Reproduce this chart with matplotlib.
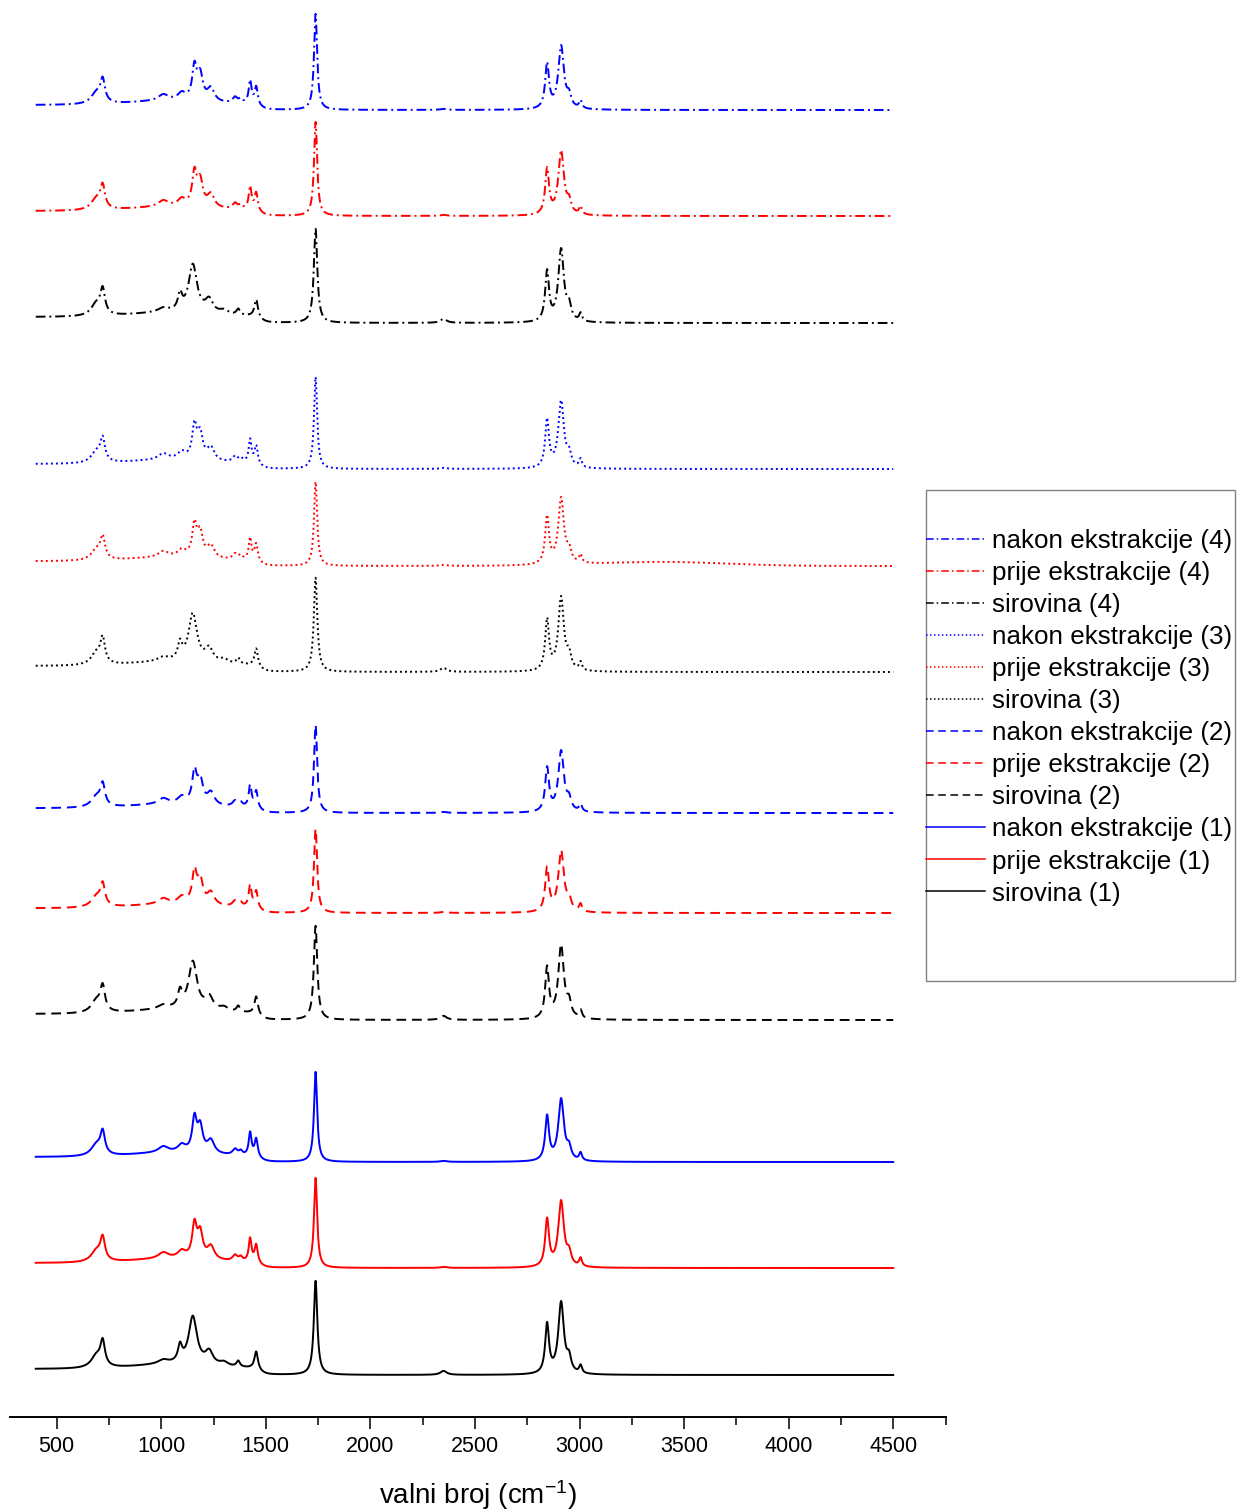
import numpy as np
import matplotlib
matplotlib.use('Agg')
import matplotlib.pyplot as plt
from matplotlib.ticker import MultipleLocator
from matplotlib.patches import Rectangle

plt.rcParams['font.family'] = ['Liberation Sans', 'DejaVu Sans']
plt.rcParams['mathtext.fontset'] = 'custom'
plt.rcParams['mathtext.rm'] = 'Liberation Sans'
plt.rcParams['mathtext.it'] = 'Liberation Sans'

# peak tables (centre cm-1, height px, half width cm-1)
raw_pos = [690, 720, 1010, 1090, 1151, 1229, 1300, 1368, 1454, 1738, 2350, 2845, 2912, 2950, 3005]
raw_h = [12, 24, 4, 16, 48, 13, 4, 6, 18, 92, 4, 44, 64, 12, 7]
raw_hw = [30, 13, 30, 12, 24, 22, 25, 10, 10, 10, 18, 11, 16, 12, 8]

ext_pos = [690, 720, 1010, 1098, 1159, 1186, 1237, 1353, 1380, 1425, 1454, 1738, 2350, 2845, 2912, 2950, 3005]
ext_h = [11, 22, 6, 7, 33, 25, 13, 6, 4, 23, 18, 88, 1, 40, 56, 10, 7]
ext_hw = [30, 13, 28, 22, 13, 15, 20, 14, 10, 8, 9, 9, 18, 11, 16, 12, 8]

labels = ['nakon ekstrakcije (4)', 'prije ekstrakcije (4)', 'sirovina (4)',
          'nakon ekstrakcije (3)', 'prije ekstrakcije (3)', 'sirovina (3)',
          'nakon ekstrakcije (2)', 'prije ekstrakcije (2)', 'sirovina (2)',
          'nakon ekstrakcije (1)', 'prije ekstrakcije (1)', 'sirovina (1)']
kind = ['ext', 'ext', 'raw'] * 4
carbonyl = [96, 94, 94, 92, 84, 94, 88, 84, 94, 90, 90, 94]
ch_peak = [65, 66, 75, 69, 68, 76, 63, 63, 76, 64, 68, 74]
fp_scale = [1.0, 1.0, 1.0, 1.0, 0.95, 1.0, 0.95, 0.95, 1.0, 1.0, 1.0, 1.0]
bump_3400 = [0, 0, 0, 0, 4, 0, 0, 0, 0, 0, 0, 0]

colors = ['blue', 'red', 'black'] * 4
styles = [(0, (5, 2, 1, 2))] * 3 + [(0, (1, 1.6))] * 3 + [(0, (5, 3))] * 3 + ['-'] * 3
baseline_px = [110, 216, 323, 469, 566, 672, 813, 913, 1020, 1162, 1268, 1375]

wn = np.linspace(400, 4500, 8201)


def lor(c, hw):
    return 1.0 / (1.0 + ((wn - c) / hw) ** 2)


def spectrum(i):
    if kind[i] == 'raw':
        pos, h, hw, b0 = raw_pos, raw_h, raw_hw, 6
    else:
        pos, h, hw, b0 = ext_pos, ext_h, ext_hw, 5
    fp = np.zeros_like(wn)
    co = np.zeros_like(wn)
    ch = np.zeros_like(wn)
    for c, a, w in zip(pos, h, hw):
        if c == 1738:
            co += a * lor(c, w)
        elif c >= 2800:
            ch += a * lor(c, w)
        else:
            fp += a * lor(c, w)
    bg = b0 / (1 + np.exp((wn - 1470) / 15)) + 4 * np.exp(-0.5 * ((wn - 1050) / 180) ** 2)
    fp = (fp + bg) * fp_scale[i]
    k = np.argmin(abs(wn - 2912))
    ch = ch * ch_peak[i] / ch[k]
    k = np.argmin(abs(wn - 1738))
    co = co * carbonyl[i] / co[k]
    extra = bump_3400[i] * np.exp(-0.5 * ((wn - 3400) / 300) ** 2)
    return fp + co + ch + extra


fig = plt.figure(figsize=(12.37, 15.11), dpi=100)
ax = fig.add_axes([9.6 / 1237, 94 / 1511, 935.9 / 1237, 1417 / 1511])

for i in range(12):
    ax.plot(wn, 1417 - baseline_px[i] + spectrum(i), color=colors[i], ls=styles[i],
            lw=1.4, label=labels[i])

ax.set_xlim(275, 4750)
ax.set_ylim(0, 1417)
for s in ['top', 'left', 'right']:
    ax.spines[s].set_visible(False)
ax.spines['bottom'].set_linewidth(1.4)
ax.set_yticks([])
ax.xaxis.set_major_locator(MultipleLocator(500))
ax.xaxis.set_minor_locator(MultipleLocator(250))
ax.tick_params(axis='x', which='major', length=8.6, width=1.1, labelsize=15.5, pad=5)
ax.tick_params(axis='x', which='minor', length=5.5, width=1.1)
ax.set_xlabel('valni broj (cm$^{-1}$)', fontsize=20, labelpad=15)

leg = fig.legend(loc='upper left', bbox_to_anchor=(926 / 1237, 1 - 529 / 1511), frameon=False,
                 fontsize=18.7, handlelength=2.27, handletextpad=0.27, labelspacing=0.31,
                 borderpad=0, borderaxespad=0)
for h in leg.get_lines():
    h.set_linewidth(1.1)
fig.patches.append(Rectangle((926 / 1237, 1 - 981 / 1511), 309 / 1237, 491 / 1511,
                             transform=fig.transFigure, fill=False, ec='#808080', lw=1))

fig.savefig('out.png', dpi=100)
